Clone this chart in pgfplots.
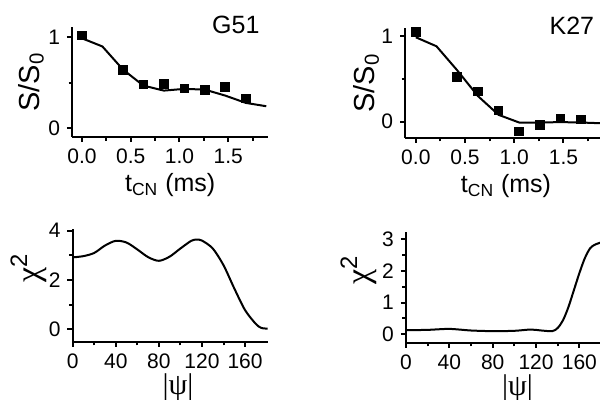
\documentclass[border=0pt]{standalone}
\usepackage{fontspec}
\setmainfont{Liberation Sans}
\newfontfamily\grk{Liberation Serif}
\usepackage{pgfplots}
\pgfplotsset{compat=1.18}
\pgfplotsset{panel/.style={
  scale only axis, anchor=south west,
  axis lines=left, axis line style={-, line width=1pt},
  tick align=outside, major tick length=2.6pt, minor tick length=1.8pt,
  every tick/.style={black, line width=1pt},
  tick label style={font=\fontsize{10.5}{12}\selectfont},
  /pgf/number format/assume math mode=true,
  clip=false,
  every axis plot/.append style={line width=1pt, black},
}}
\begin{document}
\begin{tikzpicture}[x=1pt,y=1pt]
\useasboundingbox (0,0) rectangle (300,200);
% ---------- G51 ----------
\begin{axis}[panel, at={(36.1pt,131.5pt)}, width=98pt, height=54.8pt,
  xmin=-0.1, xmax=1.91, ymin=-0.095, ymax=1.11,
  xtick={0,0.5,1,1.5}, xticklabels={0.0,0.5,1.0,1.5},
  minor xtick={0.25,0.75,1.25,1.75},
  ytick={0,1}, minor ytick={0.5},
  ylabel={S/S\textsubscript{0}}, ylabel style={font=\fontsize{14.5}{16}\selectfont, at={(axis description cs:-0.21,0.5)}, anchor=center},
  xlabel={t\textsubscript{CN} (ms)}, xlabel style={font=\fontsize{12.5}{14}\selectfont, at={(axis description cs:0.50,-0.44)}, anchor=center},
]
\addplot[no marks] coordinates {(0,0.99)(0.21,0.9)(0.42,0.647)(0.63,0.47)(0.84,0.415)(1.05,0.434)(1.26,0.426)(1.47,0.36)(1.68,0.28)(1.89,0.243)};
\addplot[only marks, mark=square*, mark size=1.9pt] coordinates {(0,1.02)(0.42,0.64)(0.63,0.48)(0.84,0.49)(1.05,0.437)(1.26,0.42)(1.47,0.452)(1.68,0.327)};
\node[font=\fontsize{12.5}{14}\selectfont] at (axis description cs:0.835,1.02) {G51};
\end{axis}
% ---------- K27 ----------
\begin{axis}[panel, at={(202.6pt,131.15pt)}, width=99.8pt, height=54.7pt,
  xmin=-0.108, xmax=1.92, ymin=-0.187, ymax=1.09,
  xtick={0,0.5,1,1.5}, xticklabels={0.0,0.5,1.0,1.5},
  minor xtick={0.25,0.75,1.25,1.75},
  ytick={0,1}, minor ytick={0.5},
  ylabel={S/S\textsubscript{0}}, ylabel style={font=\fontsize{14.5}{16}\selectfont, at={(axis description cs:-0.195,0.5)}, anchor=center},
  xlabel={t\textsubscript{CN} (ms)}, xlabel style={font=\fontsize{12.5}{14}\selectfont, at={(axis description cs:0.505,-0.44)}, anchor=center},
]
\addplot[no marks] coordinates {(0,0.985)(0.21,0.88)(0.42,0.6)(0.63,0.3)(0.84,0.08)(1.05,-0.01)(1.26,-0.01)(1.47,-0.005)(1.68,-0.01)(1.92,-0.02)};
\addplot[only marks, mark=square*, mark size=1.9pt] coordinates {(0,1.05)(0.42,0.52)(0.63,0.35)(0.84,0.132)(1.05,-0.117)(1.26,-0.039)(1.47,0.039)(1.68,0.023)};
\node[font=\fontsize{12.5}{14}\selectfont] at (axis description cs:0.835,1.02) {K27};
\end{axis}
% ---------- chi2 G51 ----------
\begin{axis}[panel, at={(36.35pt,29.15pt)}, width=97.5pt, height=56.1pt,
  xmin=0, xmax=181, ymin=-0.5, ymax=4.05,
  xtick={0,40,80,120,160}, minor xtick={20,60,100,140},
  ytick={0,2,4}, minor ytick={1,3},
  ylabel={{\grk χ}\textsuperscript{2}}, ylabel style={font=\fontsize{17}{19}\selectfont, at={(axis description cs:-0.225,0.66)}, anchor=center},
  xlabel={{\grk |ψ|}}, xlabel style={font=\fontsize{15}{17}\selectfont, at={(axis description cs:0.54,-0.41)}, anchor=center},
]
\addplot[smooth] coordinates {(0,2.92)(10,2.97)(20,3.1)(30,3.4)(40,3.59)(50,3.52)(60,3.24)(70,2.93)(80,2.78)(90,2.95)(100,3.28)(110,3.59)(115,3.64)(120,3.6)(130,3.28)(140,2.6)(150,1.66)(160,0.78)(170,0.22)(175,0.06)(181,0.03)};
\end{axis}
% ---------- chi2 K27 ----------
\begin{axis}[panel, at={(203pt,28.65pt)}, width=98.6pt, height=55.5pt,
  xmin=0, xmax=182, ymin=-0.265, ymax=3.24,
  xtick={0,40,80,120,160}, minor xtick={20,60,100,140,180},
  ytick={0,1,2,3}, minor ytick={0.5,1.5,2.5},
  ylabel={{\grk χ}\textsuperscript{2}}, ylabel style={font=\fontsize{17}{19}\selectfont, at={(axis description cs:-0.24,0.655)}, anchor=center},
  xlabel={{\grk |ψ|}}, xlabel style={font=\fontsize{15}{17}\selectfont, at={(axis description cs:0.565,-0.41)}, anchor=center},
]
\addplot[smooth] coordinates {(0,0.13)(20,0.14)(40,0.17)(60,0.12)(80,0.1)(100,0.11)(115,0.15)(125,0.12)(135,0.1)(140,0.2)(145,0.45)(150,0.87)(155,1.4)(160,1.93)(165,2.4)(170,2.72)(175,2.84)(182,2.92)};
\end{axis}
\end{tikzpicture}
\end{document}
